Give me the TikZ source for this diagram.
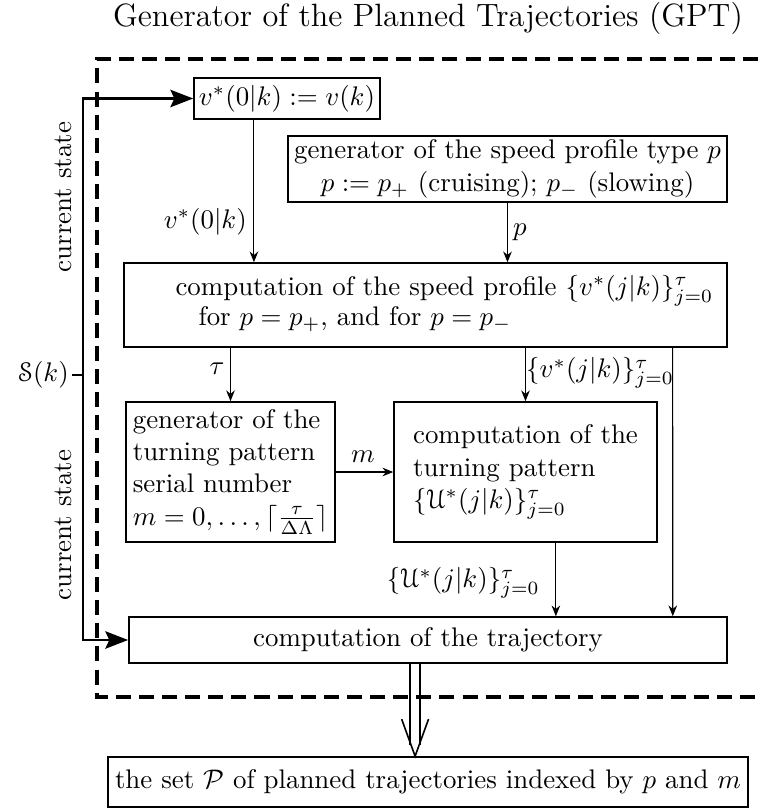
\documentclass[tikz,border=0pt]{standalone}
\usepackage{amsmath}
\usepackage[mathscr]{eucal}
\usetikzlibrary{arrows.meta,calc}
\tikzset{
  box/.style={draw, line width=0.6pt, inner sep=0pt, align=left},
  flow/.style={line width=0.4pt, -{Stealth[length=4pt,width=3.2pt]}},
  statearr/.style={line width=0.8pt, -{Stealth[length=8.5pt,width=6.5pt,inset=1.5pt]}},
  lbl/.style={inner sep=1pt},
  frame/.style={line width=1.5pt, dash pattern=on 5.6pt off 3pt},
}
\begin{document}
\begin{tikzpicture}[x=0.372pt,y=-0.372pt]
\useasboundingbox (0,0) rectangle (758,810);

% title and the dashed frame of the generator
\node[font=\large] (title) at (428,18) {Generator of the Planned Trajectories (GPT)};
\draw[frame] (758,59) -- (97,59) -- (97,697) -- (758,697);

% blocks
\node[box, minimum width=69.2pt, minimum height=15.3pt] (vbox) at (287,98.5) {$v^*(0|k) := v(k)$};
\node[box, align=center, minimum width=163.3pt, minimum height=24.6pt] (genp) at (507.5,169)
  {generator of the speed profile type $p$\\ $p := p_+$ (cruising); $p_-$ (slowing)};
\node[box, minimum width=224.3pt, minimum height=31.2pt] (sp) at (425.5,305) {};
\node[anchor=base west, inner sep=0pt] (spa) at (175,295) {computation of the speed profile $\{v^*(j|k)\}_{j=0}^{\tau}$};
\node[anchor=base west, inner sep=0pt] (spb) at (198,325) {for $p=p_+$, and for $p=p_-$};
\node[box, minimum width=77.7pt, minimum height=52.1pt] (tg) at (230.5,472)
  {generator of the\\turning pattern\\serial number\\$m=0,\ldots,\lceil\frac{\tau}{\Delta\Lambda}\rceil$};
\node[box, minimum width=97.8pt, minimum height=52.1pt] (tp) at (525.5,472)
  {computation of the\\turning pattern\\$\{\mathscr{U}^*(j|k)\}_{j=0}^{\tau}$};
\node[box, minimum width=222.5pt, minimum height=17.1pt] (traj) at (428,640) {computation of the trajectory};
\node[box, minimum width=238.1pt, minimum height=18.6pt] (final) at (428,782)
  {the set $\mathcal{P}$ of planned trajectories indexed by $p$ and $m$};

% current state input
\node[inner sep=1pt, anchor=east] (sk) at (72,375) {$\mathscr{S}(k)$};
\coordinate (jn) at (83,375);
\draw[line width=0.8pt] (sk.east) -- (jn);
\draw[statearr] (jn) |- (vbox.west);
\draw[statearr] (jn) |- (traj.west);
\node[rotate=90] (csa) at (63,197) {current state};
\node[rotate=90] (csb) at (63,525) {current state};

% signal flow between blocks
\draw[flow] ([xshift=-12.3pt]vbox.south) -- ([xshift=-12.3pt]vbox.south |- sp.north);
\node[lbl, anchor=east] (lv) at (250,222) {$v^*(0|k)$};
\draw[flow] (genp.south) -- (genp.south |- sp.north);
\node[lbl, anchor=west] (lp) at (510,232) {$p$};
\draw[flow] (sp.south -| tg.north) -- (tg.north);
\node[lbl] (lt) at (217,369) {$\tau$};
\draw[flow] (sp.south -| tp.north) -- (tp.north);
\node[lbl, anchor=west] (lvj) at (523,373) {$\{v^*(j|k)\}_{j=0}^{\tau}$};
\draw[flow] ([xshift=-20.5pt]sp.south east) -- ([xshift=-20.5pt]traj.north east);
\draw[flow] (tg.east) -- (tp.west);
\node[lbl] (lm) at (363,457) {$m$};
\draw[flow] ([xshift=11.3pt]tp.south) -- ([xshift=11.3pt]tp.south |- traj.north);
\node[lbl, anchor=east] (lu) at (543,583) {$\{\mathscr{U}^*(j|k)\}_{j=0}^{\tau}$};

% double output arrow
\coordinate (dtop) at ([xshift=-4.8pt]traj.south);
\coordinate (dtip) at (dtop |- final.north);
\draw[line width=0.55pt] ([xshift=-1.9pt]dtop) -- ([xshift=-1.9pt,yshift=4pt]dtip);
\draw[line width=0.55pt] ([xshift=1.9pt]dtop) -- ([xshift=1.9pt,yshift=4pt]dtip);
\draw[line width=0.6pt] ([shift={(-5pt,13.8pt)}]dtip) -- (dtip) -- ([shift={(5pt,13.8pt)}]dtip);
\end{tikzpicture}
\end{document}
